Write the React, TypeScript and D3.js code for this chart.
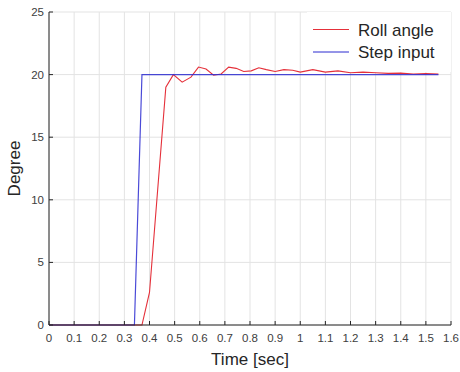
import React from 'react';
import * as d3 from 'd3';

// step input (time [s], degree)
const stepTime = [0, 0.34, 0.37, 1.55];
const stepValue = [0, 0, 20, 20];

// roll angle response
const rollTime = [
  0, 0.37, 0.40, 0.465, 0.495, 0.53, 0.565, 0.595, 0.625, 0.655, 0.685, 0.715,
  0.745, 0.775, 0.805, 0.835, 0.865, 0.9, 0.935, 0.97, 1.0, 1.05, 1.1, 1.15,
  1.2, 1.25, 1.3, 1.35, 1.4, 1.45, 1.5, 1.55,
];
const rollValue = [
  0, 0, 2.6, 19.0, 20.0, 19.4, 19.8, 20.6, 20.45, 19.95, 20.05, 20.6,
  20.5, 20.25, 20.3, 20.55, 20.4, 20.25, 20.4, 20.35, 20.2, 20.4, 20.2, 20.3,
  20.15, 20.2, 20.15, 20.1, 20.12, 20.05, 20.08, 20.05,
];

const xTicks = [0, 0.1, 0.2, 0.3, 0.4, 0.5, 0.6, 0.7, 0.8, 0.9, 1, 1.1, 1.2, 1.3, 1.4, 1.5, 1.6];
const yTicks = [0, 5, 10, 15, 20, 25];
const legendLabels = ['Roll angle', 'Step input'];
const legendColors = ['#e5303a', '#2a2ad0'];

const W = 460;
const H = 372;
const m = { left: 49, right: 9, top: 12, bottom: 47 };
const font = '"Liberation Sans", Arial, Helvetica, sans-serif';

export default function App() {
  const x = d3.scaleLinear().domain([0, 1.6]).range([m.left, W - m.right]);
  const y = d3.scaleLinear().domain([0, 25]).range([H - m.bottom, m.top]);

  const line = d3.line<[number, number]>().x(d => x(d[0])).y(d => y(d[1]));
  const rollPts = rollTime.map((t, i) => [t, rollValue[i]] as [number, number]);
  const stepPts = stepTime.map((t, i) => [t, stepValue[i]] as [number, number]);

  const x0 = m.left, x1 = W - m.right, y0 = H - m.bottom, y1 = m.top;
  const axisColor = '#262626';
  const gridColor = '#e3e3e3';

  // legend box
  const lx = 307, ly = y1, lw = x1 - lx, lh = 60;

  return (
    <svg width={W} height={H} style={{ position: 'absolute', left: 0, top: 0, background: '#fff' }}
      fontFamily={font}>
      <rect x={0} y={0} width={W} height={H} fill="#fff" />
      {/* grid */}
      {xTicks.map(t => (
        <line key={'gx' + t} x1={x(t)} x2={x(t)} y1={y0} y2={y1} stroke={gridColor} strokeWidth={1} />
      ))}
      {yTicks.map(t => (
        <line key={'gy' + t} x1={x0} x2={x1} y1={y(t)} y2={y(t)} stroke={gridColor} strokeWidth={1} />
      ))}
      {/* legend background */}
      <rect x={lx} y={ly} width={lw} height={lh} fill="#fff" />
      {/* data */}
      <path d={line(rollPts) || ''} fill="none" stroke={legendColors[0]} strokeWidth={1.1} />
      <path d={line(stepPts) || ''} fill="none" stroke={legendColors[1]} strokeWidth={1.2} opacity={0.85} />
      {/* axes */}
      <line x1={x0} x2={x1} y1={y0} y2={y0} stroke={axisColor} strokeWidth={1} />
      <line x1={x0} x2={x0} y1={y0} y2={y1} stroke={axisColor} strokeWidth={1} />
      {xTicks.map(t => (
        <g key={'xt' + t}>
          <line x1={x(t)} x2={x(t)} y1={y0} y2={y0 - 4} stroke={axisColor} />
          <text x={x(t)} y={y0 + 17} textAnchor="middle" fontSize={11.5} fill="#404040">{String(t)}</text>
        </g>
      ))}
      {yTicks.map(t => (
        <g key={'yt' + t}>
          <line x1={x0} x2={x0 + 4} y1={y(t)} y2={y(t)} stroke={axisColor} />
          <text x={x0 - 5} y={y(t) + 4} textAnchor="end" fontSize={11.5} fill="#404040">{t}</text>
        </g>
      ))}
      {/* axis labels */}
      <text x={(x0 + x1) / 2} y={365} textAnchor="middle" fontSize={17} fill="#262626">Time [sec]</text>
      <text transform={`translate(20,${(y0 + y1) / 2}) rotate(-90)`} textAnchor="middle" fontSize={17}
        fill="#262626">Degree</text>
      {/* legend */}
      {legendLabels.map((lab, i) => (
        <g key={lab} transform={`translate(0,${29.5 + i * 22.5})`}>
          <line x1={313} x2={349} y1={0} y2={0} stroke={legendColors[i]} strokeWidth={1} />
          <text x={358} y={6} fontSize={17} fill="#262626">{lab}</text>
        </g>
      ))}
    </svg>
  );
}
